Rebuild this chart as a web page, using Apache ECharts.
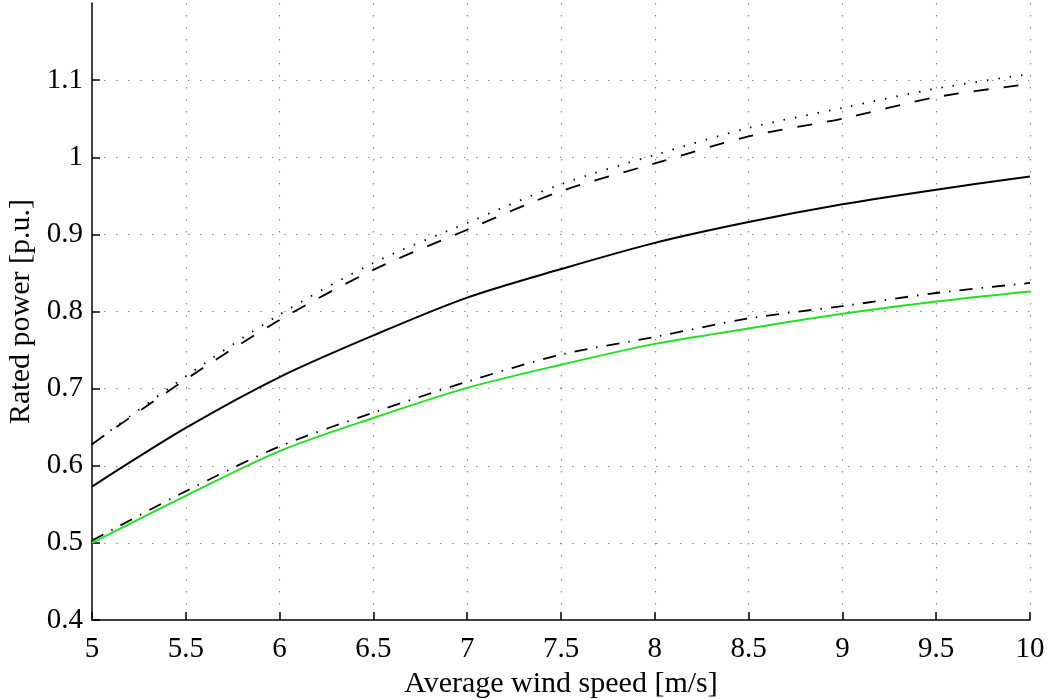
<!DOCTYPE html>
<html>
<head>
<meta charset="utf-8">
<script src="https://cdn.jsdelivr.net/npm/echarts@6/dist/echarts.min.js"></script>
<style>
  html, body { margin: 0; padding: 0; background: #fff; }
  #chart { width: 1049px; height: 699px; }
</style>
</head>
<body>
<div id="chart"></div>
<script>
// wind speed [m/s]
const windSpeed = [5, 5.5, 6, 6.5, 7, 7.5, 8, 8.5, 9, 9.5, 10];

// rated power [p.u.]
const dottedCurve  = [0.628, 0.716, 0.796, 0.863, 0.915, 0.965, 1.003, 1.038, 1.064, 1.089, 1.108];
const dashedCurve  = [0.628, 0.712, 0.789, 0.854, 0.906, 0.956, 0.992, 1.027, 1.050, 1.078, 1.095];
const solidCurve   = [0.573, 0.649, 0.715, 0.769, 0.818, 0.855, 0.889, 0.916, 0.939, 0.958, 0.975];
const dashDotCurve = [0.503, 0.567, 0.625, 0.669, 0.709, 0.744, 0.767, 0.791, 0.807, 0.824, 0.837];
const greenCurve   = [0.500, 0.561, 0.619, 0.662, 0.701, 0.731, 0.758, 0.778, 0.797, 0.813, 0.826];

const FONT = '"Liberation Serif", "DejaVu Serif", serif';

function pairs(ys) {
  return windSpeed.map((x, i) => [x, ys[i]]);
}

function line(name, ys, color, type, width) {
  return {
    name: name,
    type: 'line',
    data: pairs(ys),
    showSymbol: false,
    smooth: 0.3,
    lineStyle: { color: color, width: width, type: type },
    z: 3
  };
}

const chart = echarts.init(document.getElementById('chart'), null, { renderer: 'canvas' });

const gridStyle = { color: '#8a8a8a', width: 1.2, type: [1.5, 10.5] };

chart.setOption({
  backgroundColor: '#fff',
  animation: false,
  grid: { left: 92, right: 19, top: 3, bottom: 79, containLabel: false, outerBoundsMode: 'none' },
  xAxis: {
    type: 'value',
    min: 5,
    max: 10,
    interval: 0.5,
    name: 'Average wind speed [m/s]',
    nameLocation: 'middle',
    nameGap: 48,
    nameTextStyle: { fontFamily: FONT, fontSize: 30, color: '#000' },
    axisLine: { show: true, onZero: false, lineStyle: { color: '#000', width: 1.5 } },
    axisTick: { show: true, inside: true, length: 8, lineStyle: { color: '#000', width: 1.5 } },
    axisLabel: { fontFamily: FONT, fontSize: 29, color: '#000', margin: 15 },
    splitLine: { show: true, showMinLine: false, showMaxLine: true, lineStyle: gridStyle }
  },
  yAxis: {
    type: 'value',
    min: 0.4,
    max: 1.2,
    interval: 0.1,
    name: 'Rated power [p.u.]',
    nameLocation: 'middle',
    nameGap: 55,
    nameTextStyle: { fontFamily: FONT, fontSize: 30, color: '#000' },
    axisLine: { show: true, onZero: false, lineStyle: { color: '#000', width: 1.5 } },
    axisTick: { show: true, inside: true, length: 8, lineStyle: { color: '#000', width: 1.5 } },
    axisLabel: { fontFamily: FONT, fontSize: 29, color: '#000', margin: 9, showMaxLabel: false },
    splitLine: { show: true, showMinLine: false, showMaxLine: false, lineStyle: gridStyle }
  },
  series: [
    line('dotted', dottedCurve, '#000', [1.5, 10], 1.8),
    line('dashed', dashedCurve, '#000', [15, 15], 1.8),
    line('solid', solidCurve, '#000', 'solid', 2),
    line('dash-dot', dashDotCurve, '#000', [13, 9, 1.5, 9], 1.8),
    line('green', greenCurve, '#22e022', 'solid', 2)
  ]
});
</script>
</body>
</html>
